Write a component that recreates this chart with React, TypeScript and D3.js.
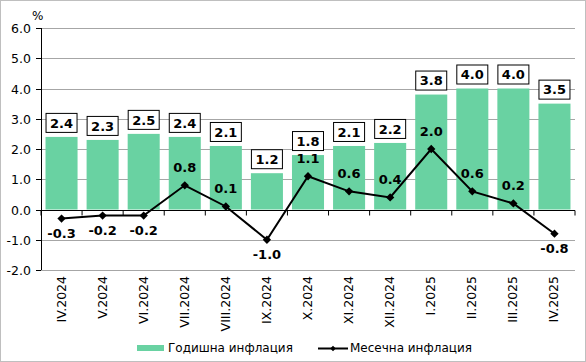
import * as React from "react";
import * as d3 from "d3";

const months = [
  "IV.2024", "V.2024", "VI.2024", "VII.2024", "VIII.2024", "IX.2024", "X.2024",
  "XI.2024", "XII.2024", "I.2025", "II.2025", "III.2025", "IV.2025",
];
const annual = [2.4, 2.3, 2.5, 2.4, 2.1, 1.2, 1.8, 2.1, 2.2, 3.8, 4.0, 4.0, 3.5];
const monthly = [-0.3, -0.2, -0.2, 0.8, 0.1, -1.0, 1.1, 0.6, 0.4, 2.0, 0.6, 0.2, -0.8];
const yTicks = [-2, -1, 0, 1, 2, 3, 4, 5, 6];

const width = 586;
const height = 362;
const margin = { top: 28, right: 11, bottom: 92, left: 41 };
const font = "'DejaVu Sans', Verdana, sans-serif";
const green = "#69D2A2";

function App() {
  const innerW = width - margin.left - margin.right;
  const innerH = height - margin.top - margin.bottom;

  const xScale = d3
    .scaleBand<string>()
    .domain(months)
    .range([0, innerW])
    .paddingInner(0.22)
    .paddingOuter(0.11);
  const step = innerW / months.length;
  const yScale = d3.scaleLinear().domain([-2, 6]).range([innerH, 0]);

  const cx = (i: number) => (xScale(months[i]) ?? 0) + xScale.bandwidth() / 2;

  const lineGenerator = d3
    .line<number>()
    .x((_, i) => cx(i))
    .y((d) => yScale(d));

  const diamond = d3.symbol(d3.symbolDiamond2, 44)() ?? "";

  return (
    <svg
      width={width}
      height={height}
      style={{ position: "absolute", left: 0, top: 0 }}
      fontFamily={font}
    >
      <rect x={0.5} y={0.5} width={width - 1} height={height - 1} fill="white" stroke="#bfbfbf" />
      <g transform={`translate(${margin.left}, ${margin.top})`}>
        {/* gridlines */}
        {yTicks.map((t) => (
          <line
            key={t}
            x1={0}
            x2={innerW}
            y1={Math.round(yScale(t)) + 0.5}
            y2={Math.round(yScale(t)) + 0.5}
            stroke="#a6a6a6"
          />
        ))}
        {/* bars */}
        {annual.map((v, i) => (
          <rect
            key={i}
            x={xScale(months[i])}
            width={xScale.bandwidth()}
            y={yScale(v)}
            height={yScale(0) - yScale(v)}
            fill={green}
          />
        ))}
        {/* zero axis with ticks */}
        <g transform={`translate(0, ${Math.round(yScale(0)) + 0.5})`}>
          <line x1={0} x2={innerW} stroke="black" />
          {d3.range(months.length + 1).map((k) => (
            <line key={k} x1={k * step} x2={k * step} y2={5} stroke="black" />
          ))}
        </g>
        {/* y axis */}
        <g>
          <line x1={0.5} x2={0.5} y1={0} y2={innerH} stroke="black" />
          {yTicks.map((t) => (
            <g key={t} transform={`translate(0, ${Math.round(yScale(t)) + 0.5})`}>
              <line x1={-5} x2={0} stroke="black" />
              <text x={-10} dy="0.35em" textAnchor="end" fontSize={12.5}>
                {t.toFixed(1)}
              </text>
            </g>
          ))}
          <text x={-9} y={-8} fontSize={12}>%</text>
        </g>
        {/* monthly line */}
        <path d={lineGenerator(monthly) ?? ""} fill="none" stroke="black" strokeWidth={2} />
        {monthly.map((v, i) => (
          <path key={i} d={diamond} transform={`translate(${cx(i)}, ${yScale(v)})`} fill="black" />
        ))}
        {monthly.map((v, i) => (
          <text
            key={i}
            x={cx(i)}
            y={v < 0 ? yScale(v) + 19 : yScale(v) - 13}
            textAnchor="middle"
            fontSize={13}
            fontWeight="bold"
          >
            {v.toFixed(1)}
          </text>
        ))}
        {/* annual labels */}
        {annual.map((v, i) => (
          <g key={i} transform={`translate(${cx(i)}, ${yScale(v) - 14})`}>
            <rect x={-15.5} y={-9.5} width={31} height={19} fill="white" stroke="black" />
            <text dy="0.36em" textAnchor="middle" fontSize={13} fontWeight="bold">
              {v.toFixed(1)}
            </text>
          </g>
        ))}
        {/* x labels */}
        {months.map((m, i) => (
          <text
            key={m}
            transform={`translate(${cx(i) + 4}, ${innerH + 6}) rotate(-90)`}
            textAnchor="end"
            fontSize={12.5}
          >
            {m}
          </text>
        ))}
      </g>
      {/* legend */}
      <g fontSize={12}>
        <rect x={137} y={345} width={27} height={6} fill={green} />
        <text x={168} y={348} dy="0.35em">Годишна инфлация</text>
        <line x1={318} x2={348} y1={348.5} y2={348.5} stroke="black" strokeWidth={2} />
        <path d={d3.symbol(d3.symbolDiamond2, 20)() ?? ""} transform="translate(333, 348.5)" />
        <text x={350} y={348} dy="0.35em">Месечна инфлация</text>
      </g>
    </svg>
  );
}

export default App;
